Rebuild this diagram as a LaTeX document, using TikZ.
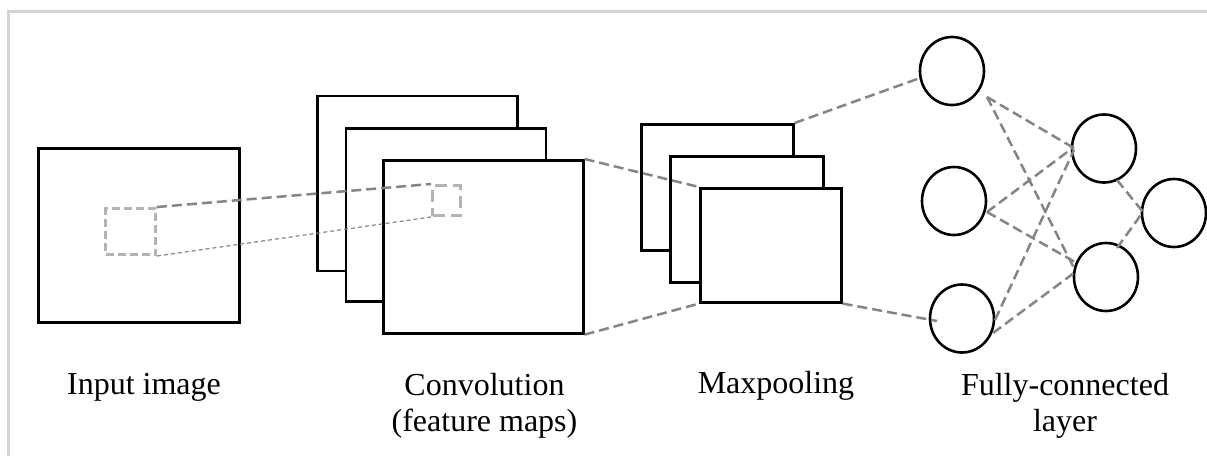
\documentclass[tikz,border=0pt]{standalone}
\usepackage{fontspec}
\setmainfont{Liberation Serif}
\usetikzlibrary{shapes.geometric,calc}
\definecolor{framegray}{HTML}{D4D4D4}
\definecolor{linkgray}{HTML}{858585}
\definecolor{patchgray}{HTML}{B3B3B3}
\begin{document}
\begin{tikzpicture}[x=0.5pt,y=-0.5pt,
  mapbox/.style={draw=black,fill=white,line width=1.3pt,inner sep=0pt,anchor=north west},
  neuron/.style={draw=black,fill=white,ellipse,line width=1.3pt,inner sep=0pt,
                 minimum width=32pt,minimum height=34pt},
  patch/.style={draw=patchgray,line width=1.5pt,dash pattern=on 4pt off 2pt,
                inner sep=0pt,anchor=north west},
  link/.style={draw=linkgray,line width=1.25pt,dash pattern=on 5pt off 2.5pt},
  thinlink/.style={draw=linkgray,line width=0.6pt,dash pattern=on 2pt off 1.5pt},
  lbl/.style={font=\fontsize{16}{18.35}\selectfont,align=center,anchor=base,inner sep=0pt}]
\useasboundingbox (0,0) rectangle (1207,456);
\fill[white] (0,0) rectangle (1207,456);
\draw[framegray,line width=1.5pt] (8.5,456) -- (8.5,11.5) -- (1207,11.5);

% input image with its receptive field
\node[mapbox,minimum width=100.5pt,minimum height=87pt] (input) at (37,147) {};
\node[patch,minimum width=25pt,minimum height=23pt] (inpatch) at (104,207) {};

% convolution feature maps
\node[mapbox,minimum width=100pt,minimum height=87.5pt] (conv1) at (316,94.5) {};
\node[mapbox,minimum width=100pt,minimum height=86.5pt] (conv2) at (344.5,127) {};
\node[mapbox,minimum width=100pt,minimum height=86.5pt] (conv3) at (382,159) {};
\node[patch,dash pattern=on 6pt off 3pt,minimum width=14pt,minimum height=15pt] (convpatch) at (431,184) {};

% pooled maps
\node[mapbox,minimum width=76pt,minimum height=63pt] (pool1) at (640,123) {};
\node[mapbox,minimum width=76.5pt,minimum height=63pt] (pool2) at (669,155) {};
\node[mapbox,minimum width=70.5pt,minimum height=57pt] (pool3) at (699,187) {};

% fully-connected neurons
\node[neuron] (n1) at (952,71) {};
\node[neuron] (n2) at (954,201) {};
\node[neuron] (n3) at (962,318.5) {};
\node[neuron] (n4) at (1104,148.5) {};
\node[neuron] (n5) at (1106,277) {};
\node[neuron] (n6) at (1174,213) {};

% receptive field projection
\draw[link] (inpatch.north east) -- (convpatch.north west);
\draw[thinlink] (inpatch.south east) -- (convpatch.south west);

% convolution -> pooling
\draw[link] (conv3.north east) -- (pool3.north west);
\draw[link] (conv3.south east) -- (pool3.south west);

% pooling -> dense layer
\draw[link] (pool1.north east) -- ($(n1)+(-32,7)$);
\draw[link] (pool3.south east) -- ($(n3)+(-25,2.5)$);

% dense connections
\draw[link] ($(n1)+(35,26)$) -- ($(n4)+(-31,-1)$);
\draw[link] ($(n1)+(35,26)$) -- ($(n5)+(-31,-7)$);
\draw[link] ($(n2)+(33,11)$) -- ($(n4)+(-30,-1.5)$);
\draw[link] ($(n2)+(33,11)$) -- ($(n5)+(-31,-15)$);
\draw[link] ($(n3)+(33,1.5)$) -- ($(n4)+(-30,1.5)$);
\draw[link] ($(n3)+(31,14.5)$) -- ($(n5)+(-32,-4)$);
\draw[link] ($(n4)+(13,31.5)$) -- ($(n6)+(-31,-1)$);
\draw[link] ($(n5)+(11,-29)$) -- ($(n6)+(-31,-1)$);

% captions (two-line captions sit on the baseline of their last line)
\node[lbl] (lab-in) at (144,394.3) {Input image};
\node[lbl] (lab-conv) at (484.5,431.7) {Convolution\\(feature maps)};
\node[lbl] (lab-pool) at (776,393.3) {Maxpooling};
\node[lbl] (lab-fc) at (1065,431.7) {Fully-connected\\layer};
\end{tikzpicture}
\end{document}
